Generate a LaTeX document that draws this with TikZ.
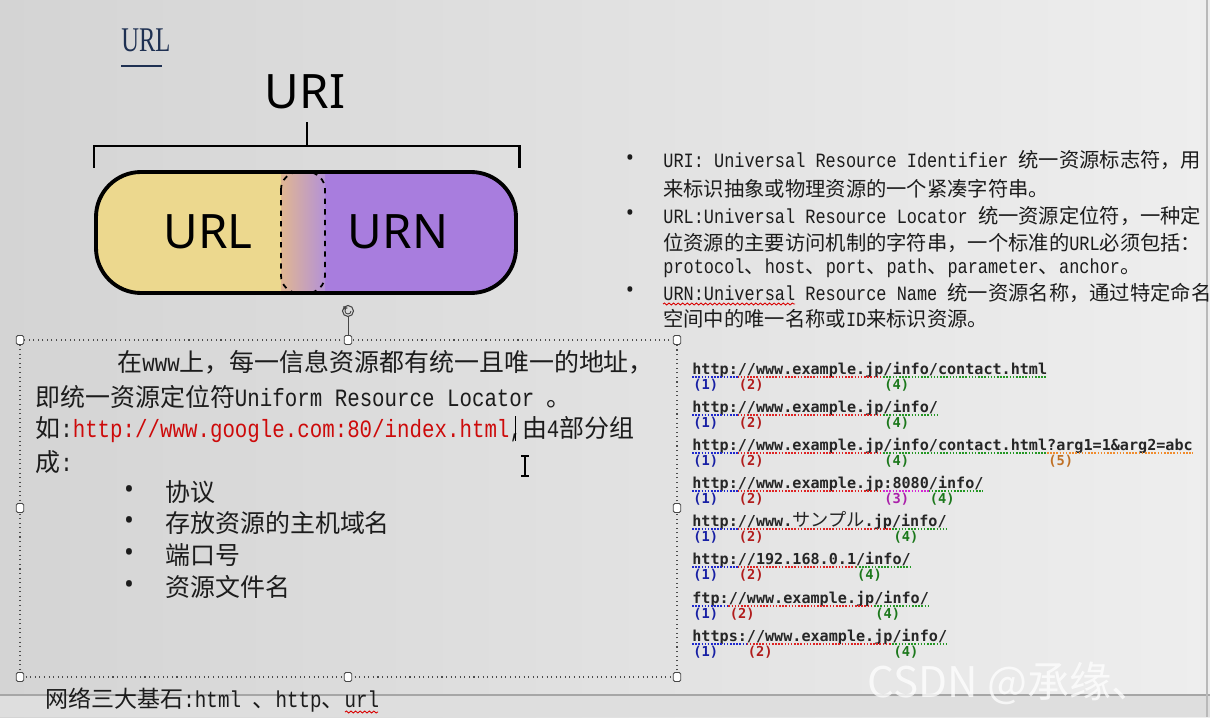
\documentclass[tikz,border=0pt]{standalone}
\usepackage{fontspec}
\usepackage{graphicx}
\setmainfont{Noto Sans CJK SC}
\newfontfamily\cjk{Noto Sans CJK SC}
\newfontfamily\lat[FakeStretch=0.8333]{Liberation Mono}
\newfontfamily\exmono{DejaVu Sans Mono}
\newfontfamily\uisans{Noto Sans}
\newfontfamily\titleserif{Liberation Serif}
\usetikzlibrary{arrows.meta,positioning,decorations.pathmorphing}

\definecolor{bgl}{RGB}{212,212,212}
\definecolor{bgm}{RGB}{233,233,233}
\definecolor{bgr}{RGB}{238,238,238}
\definecolor{urlyel}{RGB}{236,216,142}
\definecolor{urnpur}{RGB}{168,125,222}
\definecolor{ovtan}{RGB}{224,182,146}
\definecolor{ovlil}{RGB}{180,146,214}
\definecolor{navy}{RGB}{30,48,82}
\definecolor{txtdark}{RGB}{28,28,28}
\definecolor{urlred}{RGB}{205,10,10}
\definecolor{urlink}{RGB}{38,38,38}
\definecolor{ublue}{RGB}{30,40,205}
\definecolor{ured}{RGB}{222,35,35}
\definecolor{umag}{RGB}{212,40,212}
\definecolor{ugreen}{RGB}{35,150,35}
\definecolor{uorange}{RGB}{240,140,45}

\def\cw{9.1}

\begin{document}
\begin{tikzpicture}[x=0.2mm, y=-0.2mm,
  lbox/.style={anchor=base west, inner sep=0pt, text=txtdark, font=\fontsize{14.2}{17}\selectfont},
  rtext/.style={anchor=base west, inner sep=0pt, text=txtdark, font=\fontsize{11.55}{14}\selectfont},
  bul/.style={inner sep=0pt, text=txtdark, font=\uisans\fontsize{15}{15}\selectfont},
  rbul/.style={bul, font=\uisans\fontsize{12.5}{13}\selectfont},
  urltxt/.style={anchor=base west, inner sep=0pt, text=urlink, font=\exmono\bfseries\fontsize{8.6}{10}\selectfont},
  seg/.style={line width=0.85pt, dash pattern=on 0.9pt off 0.9pt},
  lab/.style={anchor=west, inner sep=0pt, font=\exmono\bfseries\fontsize{7.8}{8}\selectfont},
  handle/.style={draw=gray!55!black, fill=white, rounded corners=0.8pt, minimum width=1.5mm, minimum height=1.8mm, inner sep=0pt, line width=0.5pt},
  wavy/.style={draw=red!85!black, line width=0.5pt, decorate, decoration={snake, amplitude=0.55pt, segment length=2.6pt}},
  big/.style={inner sep=0pt, font=\uisans\fontsize{27}{30}\selectfont}]
  \useasboundingbox (0,0) rectangle (1210,717);
  % background of the slide
  \shade[left color=bgl, middle color=bgm, right color=bgr] (0,0) rectangle (1210,717);
  \fill[gray!26] (0,695) rectangle (1210,717);
  \draw[gray!70, line width=0.6pt] (0,695) -- (1210,695);
  \draw[gray!55, line width=0.8pt] (1207,0) -- (1207,717);

  % title
  \node[anchor=base west, inner sep=0pt, text=navy, font=\titleserif\fontsize{19.7}{22}\selectfont] (ttl) at (121,52) {\scalebox{0.71}[1]{URL}};
  \draw[navy, line width=1.6pt] (121,66) -- (162,66);

  % URI bracket and pill
  \node[big] (uri) at (305,92) {URI};
  \draw[line width=1.7pt] (94,168) -- (94,146) -- (519,146) -- (519,168);
  \draw[line width=1.7pt] (307,146) -- (307,122);
  \begin{scope}
    \clip[rounded corners=9mm] (96,172) rectangle (516,293);
    \fill[urlyel] (96,172) rectangle (303,293);
    \fill[urnpur] (303,172) rectangle (516,293);
    \shade[left color=ovtan, right color=ovlil] (281,172) rectangle (325,293);
  \end{scope}
  \draw[dashed, line width=1pt, rounded corners=3.5mm] (281,172) rectangle (325,293);
  \draw[line width=2.2pt, rounded corners=9mm] (96,172) rectangle (516,293);
  \node[big] (url) at (208,232) {URL};
  \node[big] (urn) at (398,232) {URN};

  % selected text box
  \draw[gray!60!black, dotted, line width=0.6pt] (20,340) rectangle (677,677);
  \foreach \hx/\hy [count=\i] in {20/340, 348/340, 677/340, 20/508, 677/508, 20/677, 348/677, 677/677}
    \node[handle] (h\i) at (\hx,\hy) {};
  \node[draw=gray!55!black, circle, minimum size=2.2mm, inner sep=0pt, line width=0.6pt] (rot) at (348,311) {};
  \draw[gray!55!black, line width=0.5pt, -{Stealth[length=1mm]}] (351,311) arc (0:270:3);
  \draw[gray!55!black, line width=0.5pt] (rot) -- (h2);

  \node[lbox] (p1) at (117,371) {在{\lat www}上，每一信息资源都有统一且唯一的地址，};
  \node[lbox] (p2) at (35,406) {即统一资源定位符{\lat Uniform Resource Locator }。};
  \node[lbox] (p3) at (35,437) {如{\lat :\textcolor{urlred}{http://www.google.com:80/index.html},}由{\lat 4}部分组};
  \node[lbox] (p4) at (35,471) {成{\lat :}};
  \draw[line width=0.5pt] (515,416) -- (515,441);
  \draw[line width=0.7pt] (525,456) -- (525,476) (521,456) -- (529,456) (521,476) -- (529,476);
  \node[bul] (b1) at (129,492) {\textbullet};
  \node[bul] (b2) at (129,523) {\textbullet};
  \node[bul] (b3) at (129,555) {\textbullet};
  \node[bul] (b4) at (129,587) {\textbullet};
  \node[lbox] (i1) at (165,501) {协议};
  \node[lbox] (i2) at (165,532) {存放资源的主机域名};
  \node[lbox] (i3) at (165,564) {端口号};
  \node[lbox] (i4) at (165,596) {资源文件名};

  % right column
  \node[rbul] (r1) at (630,160) {\textbullet};
  \node[rbul] (r2) at (630,215) {\textbullet};
  \node[rbul] (r3) at (630,292) {\textbullet};
  \node[rtext] (d1) at (663,168) {{\lat URI: Universal Resource Identifier }统一资源标志符，用};
  \node[rtext] (d2) at (663,196) {来标识抽象或物理资源的一个紧凑字符串。};
  \node[rtext] (d3) at (663,223) {{\lat URL:Universal Resource Locator }统一资源定位符，一种定};
  \node[rtext] (d4) at (663,250) {位资源的主要访问机制的字符串，一个标准的{\lat URL}必须包括：};
  \node[rtext] (d5) at (663,273) {{\lat protocol}、{\lat host}、{\lat port}、{\lat path}、{\lat parameter}、{\lat anchor}。};
  \node[rtext] (d6) at (663,300) {{\lat URN:Universal Resource Name }统一资源名称，通过特定命名};
  \node[rtext] (d7) at (663,326) {空间中的唯一名称或{\lat ID}来标识资源。};
  \draw[wavy] (663,304) -- (795,304);

  % url examples
  \node[urltxt] (e1) at (692,374) {http://www.example.jp/info/contact.html};
  \node[urltxt] (e2) at (692,412) {http://www.example.jp/info/};
  \node[urltxt] (e3) at (692,450) {http://www.example.jp/info/contact.html?arg1=1\&arg2=abc};
  \node[urltxt] (e4) at (692,488) {http://www.example.jp:8080/info/};
  \node[urltxt] (e5) at (692,526) {http://www.{\cjk\mdseries\fontsize{10.36}{12}\selectfont サンプル}.jp/info/};
  \node[urltxt] (e6) at (692,564) {http://192.168.0.1/info/};
  \node[urltxt] (e7) at (692,603) {ftp://www.example.jp/info/};
  \node[urltxt] (e8) at (692,641) {https://www.example.jp/info/};
  \foreach \y/\a/\b/\c/\l in {
      374/0/5/ublue/1, 374/5/21/ured/2, 374/21/39/ugreen/4,
      412/0/5/ublue/1, 412/5/21/ured/2, 412/21/27/ugreen/4,
      450/0/5/ublue/1, 450/5/21/ured/2, 450/21/39/ugreen/4, 450/39/55/uorange/5,
      488/0/5/ublue/1, 488/5/21/ured/2, 488/21/26/umag/3, 488/26/32/ugreen/4,
      526/0/5/ublue/1, 526/5/22/ured/2, 526/22/28/ugreen/4,
      564/0/5/ublue/1, 564/5/18/ured/2, 564/18/24/ugreen/4,
      603/0/4/ublue/1, 603/4/20/ured/2, 603/20/26/ugreen/4,
      641/0/6/ublue/1, 641/6/22/ured/2, 641/22/28/ugreen/4} {
    \draw[seg, \c] (692+\a*\cw,\y+3) -- (692+\b*\cw,\y+3);
    \node[lab, text=\c!80!black] (lab-\y-\a) at (693+\a*\cw,\y+11) {(\l)};
  }

  % footer
  \node[anchor=base west, inner sep=0pt, text=txtdark, font=\fontsize{13.1}{15}\selectfont] (foot) at (45,707) {网络三大基石{\lat :html }、{\lat http}、{\lat url}};
  \draw[wavy] (345,712) -- (378,712);
  \node[anchor=base west, inner sep=0pt, text=white, text opacity=0.75, font=\cjk\fontsize{24}{26}\selectfont] (wm) at (867,697) {CSDN @承缘、};
\end{tikzpicture}
\end{document}
